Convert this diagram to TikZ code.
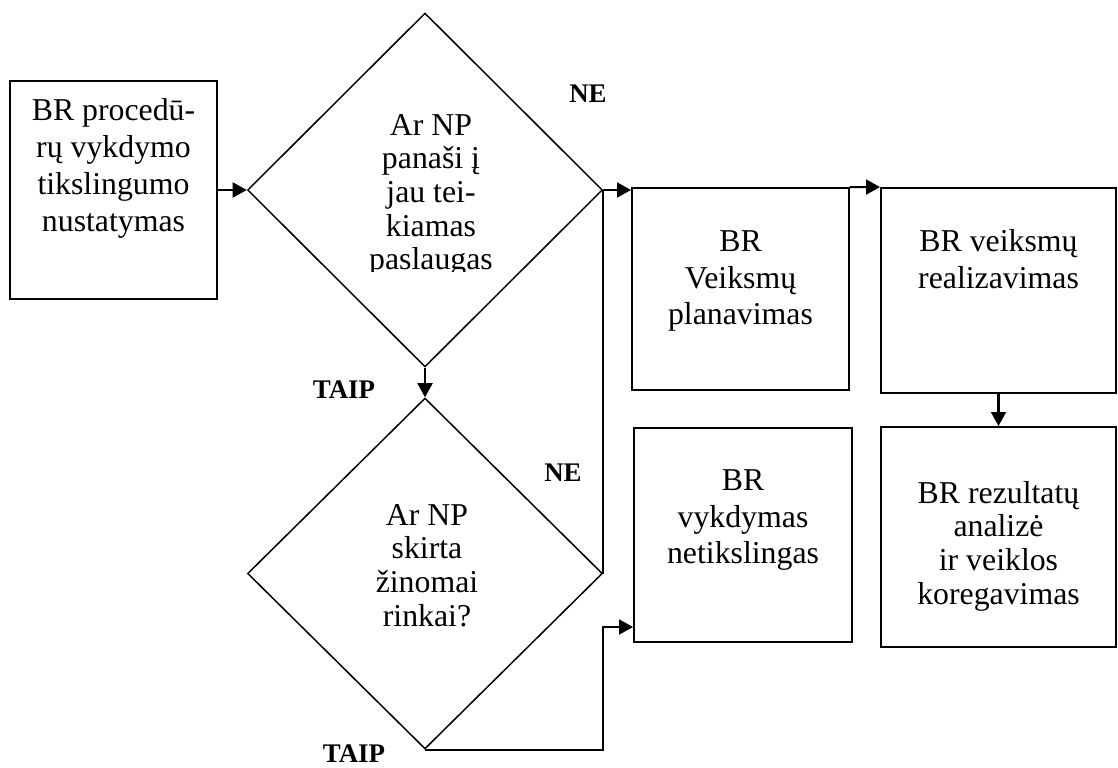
\documentclass[tikz,border=0pt]{standalone}
\usepackage{fontspec}
\setmainfont{Liberation Serif}
\usetikzlibrary{shapes.geometric,arrows.meta,positioning}
\begin{document}
\begin{tikzpicture}[x=0.02cm,y=-0.02cm,
  box/.style={draw,line width=1.1pt,inner sep=0},
  decision/.style={diamond,draw,line width=0.85pt,inner sep=0,minimum width=7.1cm},
  txt/.style={anchor=north,align=center,inner sep=0,font=\fontsize{18.1}{21}\selectfont},
  tight/.style={txt,font=\fontsize{18.1}{19.1}\selectfont},
  lbl/.style={inner sep=0,font=\fontsize{15.3}{18}\selectfont\bfseries},
  arr/.style={line width=1.2pt,-{Triangle[length=8pt,width=8.5pt]}},
  conn/.style={line width=1.2pt}]
  \useasboundingbox (0,0) rectangle (1118,767);

  \node[box,minimum width=4.14cm,minimum height=4.36cm] (task) at (113.5,190) {};
  \node[txt] (taskt) at (113.5,98) {BR procedū-\\rų vykdymo\\tikslingumo\\nustatymas};

  \node[decision,minimum height=7.08cm] (simil) at (425,190) {};
  \begin{scope}
    \clip (320,100) rectangle (540,271);
    \node[tight] (similt) at (431,114) {Ar NP\\panaši į\\jau tei-\\kiamas\\paslaugas};
  \end{scope}

  \node[decision,minimum height=7.02cm] (market) at (425,573.5) {};
  \node[tight] (markett) at (427,504) {Ar NP\\skirta\\žinomai\\rinkai?};

  \node[box,minimum width=4.34cm,minimum height=4.04cm] (plan) at (740.5,289) {};
  \node[txt] (plant) at (740.5,230) {BR\\Veiksmų\\planavimas};

  \node[box,minimum width=4.7cm,minimum height=4.1cm] (exec) at (998.5,290.5) {};
  \node[txt] (exect) at (998.5,229) {BR veiksmų\\realizavimas};

  \node[box,minimum width=4.7cm,minimum height=4.4cm] (anal) at (998.5,537) {};
  \node[tight] (analt) at (998.5,481) {BR rezultatų\\analizė\\ir veiklos\\koregavimas};

  \node[box,minimum width=4.36cm,minimum height=4.28cm] (fail) at (743,535) {};
  \node[txt] (failt) at (743,469) {BR\\vykdymas\\netikslingas};

  \node[lbl] (ne1) at (588,94) {NE};
  \node[lbl] (ne2) at (563,473) {NE};
  \node[lbl] (taip1) at (344,390) {TAIP};
  \node[lbl] (taip2) at (354,754) {TAIP};

  \draw[arr] (task.east) -- (simil.west);
  \draw[arr] (simil.east) -- (simil.east -| plan.west);
  \draw[arr] (plan.north east) -- (exec.north west);
  \draw[arr] (exec.south) -- (anal.north);
  \draw[arr] (simil.south) -- (market.north);
  \draw[conn] (simil.east) -- (market.east);
  \coordinate (bend) at (603,627);
  \draw[arr] (market.south) -| (bend) -- (bend -| fail.west);
\end{tikzpicture}
\end{document}
